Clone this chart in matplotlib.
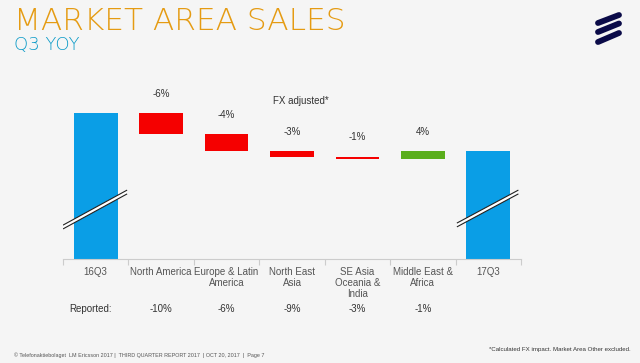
import matplotlib
matplotlib.use("Agg")
import matplotlib.pyplot as plt
from matplotlib.patches import Polygon
from matplotlib.lines import Line2D

# ---------------- data ----------------
categories = ["16Q3", "North America", "Europe & Latin\nAmerica", "North East\nAsia",
              "SE Asia\nOceania &\nIndia", "Middle East &\nAfrica", "17Q3"]
start_value = 100.0                      # 16Q3 (indexed chart units)
deltas = [-14.5, -11.5, -4.0, -1.4, 5.3]  # waterfall steps (chart units)
fx_labels = ["-6%", "-4%", "-3%", "-1%", "4%"]
reported_labels = ["-10%", "-6%", "-9%", "-3%", "-1%"]

# ---------------- style ----------------
BG = "#f5f5f5"
BLUE = "#0a9ee6"
RED = "#f50000"
GREEN = "#5aae1c"
TXT = "#555555"
DARK = "#333333"
W, H = 640, 363

plt.rcParams['font.family'] = ['Liberation Sans', 'DejaVu Sans']
fig = plt.figure(figsize=(W / 100, H / 100), dpi=100, facecolor=BG)

# axes geometry in pixels
left_px, right_px, base_px, top_px = 63, 521, 259, 90
ax = fig.add_axes([left_px / W, 1 - base_px / H, (right_px - left_px) / W, (base_px - top_px) / H])
ax.set_facecolor(BG)
px_per_unit = 1.46
ax.set_xlim(-0.5, len(categories) - 0.5)
ax.set_ylim(0, (base_px - top_px) / px_per_unit)

bw = 0.67
n = len(categories)
xs = list(range(n))

# start / end bars
end_value = start_value + sum(deltas)
ax.bar(xs[0], start_value, width=bw, color=BLUE, zorder=2)
ax.bar(xs[-1], end_value, width=bw, color=BLUE, zorder=2)

# waterfall steps
level = start_value
for i, (d, lab) in enumerate(zip(deltas, fx_labels)):
    x = xs[i + 1]
    bottom = level + d if d < 0 else level
    ax.bar(x, abs(d), bottom=bottom, width=bw, color=RED if d < 0 else GREEN, zorder=2)
    top = max(level, level + d)
    ax.annotate(lab, (x, top), xytext=(0, 14), textcoords="offset points",
                ha="center", va="center", fontsize=7, color=DARK)
    level += d

ax.text(3.13, ax.get_ylim()[1] - (101 - top_px) / px_per_unit, "FX adjusted*",
        ha="center", va="center", fontsize=7, color=DARK)

# axis break marks on blue bars
def break_mark(xc, x0, x1, y0, y1, gap=2.6):
    poly = Polygon([(xc + x0, y0 - gap / 2), (xc + x1, y1 - gap / 2),
                    (xc + x1, y1 + gap / 2), (xc + x0, y0 + gap / 2)],
                   closed=True, facecolor="white", edgecolor="none", zorder=3)
    ax.add_patch(poly)
    for s in (-1, 1):
        ax.add_line(Line2D([xc + x0, xc + x1], [y0 + s * gap / 2, y1 + s * gap / 2],
                           color="#222222", lw=0.8, zorder=4, solid_capstyle="butt"))

break_mark(xs[0], -0.5, 0.48, 21.9, 45.9)
break_mark(xs[-1], -0.48, 0.46, 23.3, 45.9)

# axes appearance
for s in ("top", "right", "left"):
    ax.spines[s].set_visible(False)
ax.spines["bottom"].set_color("#cccccc")
ax.spines["bottom"].set_linewidth(0.8)
ax.set_yticks([])
ax.set_xticks([x + 0.5 for x in xs[:-1]] + [-0.5, n - 0.5], minor=False)
ax.set_xticklabels([])
ax.tick_params(axis="x", length=4, color="#cccccc", width=0.8)
ax.set_xticks(xs, minor=True)
ax.set_xticklabels(categories, minor=True, fontsize=7, color=TXT, linespacing=1.1, va="top")
ax.tick_params(axis="x", which="minor", length=0, pad=6)

# reported row
fig.text(91 / W, 1 - 309 / H, "Reported:", ha="center", va="center", fontsize=7, color=DARK)
for i, lab in enumerate(reported_labels):
    xdisp = ax.transData.transform((xs[i + 1], 0))[0]
    fig.text(xdisp / fig.bbox.width, 1 - 309 / H, lab, ha="center", va="center", fontsize=7, color=DARK)

# title
fig.text(14 / W, 1 - 21.5 / H, "MARKET AREA SALES", ha="left", va="center",
         fontsize=22.5, color="#e59b12", family=["DejaVu Sans"], fontweight="light")
fig.text(14 / W, 1 - 45.5 / H, "Q3 YOY", ha="left", va="center",
         fontsize=13, color="#0c9bc8", family=["DejaVu Sans"], fontweight="light")

# logo (three slanted strokes)
for y0, y1 in ((23, 15), (32, 23.5), (42, 33)):
    fig.add_artist(Line2D([598 / W, 619 / W], [1 - y0 / H, 1 - y1 / H], transform=fig.transFigure,
                          color="#0b0b48", lw=4.2, solid_capstyle="round"))

# footer
fig.text(14 / W, 1 - 355 / H,
         "\u00a9 Telefonaktiebolaget  LM Ericsson 2017 |  THIRD QUARTER REPORT 2017  | OCT 20, 2017  |  Page 7",
         ha="left", va="center", fontsize=3.9, color="#555555")
fig.text(631 / W, 1 - 350 / H, "*Calculated FX impact. Market Area Other excluded.",
         ha="right", va="center", fontsize=4.4, color="#333333")

fig.savefig("out.png", dpi=100, facecolor=BG)
